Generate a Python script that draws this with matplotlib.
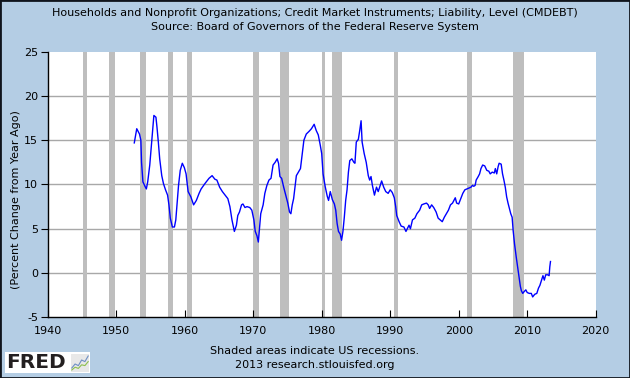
import numpy as np
import matplotlib.pyplot as plt
from matplotlib.patches import Rectangle

# Year-over-year % change in household credit market debt
years = [1952.64, 1953.0, 1953.2, 1953.4, 1953.6, 1953.7, 1953.9, 1954.2, 1954.4, 1954.6,
         1954.9, 1955.1, 1955.3, 1955.5, 1955.8, 1955.95, 1956.15, 1956.35, 1956.65, 1956.9,
         1957.2, 1957.5, 1957.7, 1957.9, 1958.2, 1958.5, 1958.7, 1958.9, 1959.1, 1959.35,
         1959.65, 1959.95, 1960.2, 1960.5, 1960.9, 1961.3, 1961.7, 1962.1, 1962.4, 1962.95,
         1963.55, 1964.0, 1964.4, 1964.7, 1965.1, 1965.5, 1965.9, 1966.3, 1966.6, 1966.9,
         1967.25, 1967.55, 1967.75, 1968.0, 1968.3, 1968.5, 1968.8, 1969.1, 1969.5, 1969.8,
         1970.1, 1970.3, 1970.55, 1970.75, 1970.95, 1971.1, 1971.45, 1971.7, 1972.0, 1972.3,
         1972.6, 1972.9, 1973.2, 1973.5, 1973.7, 1973.9, 1974.15, 1974.45, 1974.75, 1975.05,
         1975.3, 1975.5, 1975.7, 1975.9, 1976.1, 1976.3, 1976.6, 1976.9, 1977.1, 1977.4,
         1977.75, 1978.15, 1978.5, 1978.9, 1979.2, 1979.5, 1979.8, 1980.0, 1980.2, 1980.5,
         1980.8, 1981.0, 1981.25, 1981.55, 1981.85, 1982.05, 1982.25, 1982.45, 1982.7, 1982.9,
         1983.1, 1983.3, 1983.5, 1983.7, 1983.9, 1984.1, 1984.4, 1984.7, 1984.85, 1985.05,
         1985.35, 1985.55, 1985.75, 1985.9, 1986.2, 1986.5, 1986.8, 1987.0, 1987.2, 1987.4,
         1987.7, 1988.0, 1988.25, 1988.55, 1988.75, 1989.05, 1989.35, 1989.7, 1990.0, 1990.3,
         1990.6, 1990.8, 1990.95, 1991.3, 1991.6, 1992.0, 1992.3, 1992.55, 1992.75, 1992.95,
         1993.25, 1993.6, 1993.9, 1994.3, 1994.6, 1994.9, 1995.3, 1995.55, 1995.75, 1996.05,
         1996.35, 1996.7, 1997.0, 1997.3, 1997.6, 1997.9, 1998.2, 1998.5, 1998.8, 1999.1,
         1999.5, 1999.7, 2000.0, 2000.3, 2000.6, 2000.9, 2001.2, 2001.5, 2001.8, 2002.0,
         2002.2, 2002.4, 2002.55, 2002.85, 2003.05, 2003.25, 2003.5, 2003.8, 2004.1, 2004.4,
         2004.6, 2004.9, 2005.2, 2005.35, 2005.55, 2005.75, 2005.9, 2006.2, 2006.4, 2006.6,
         2006.8, 2007.0, 2007.2, 2007.4, 2007.6, 2007.8, 2007.95, 2008.15, 2008.4, 2008.6,
         2008.8, 2009.0, 2009.15, 2009.35, 2009.55, 2009.8, 2010.0, 2010.3, 2010.6, 2010.8,
         2011.1, 2011.4, 2011.65, 2011.85, 2012.1, 2012.3, 2012.5, 2012.7, 2013.0, 2013.2,
         2013.3, 2013.4]
pct_change = [14.7, 16.3, 16.0, 15.7, 15.0, 12.5, 10.3, 9.8, 9.5, 10.3,
              12.2, 14.1, 15.9, 17.8, 17.6, 16.5, 14.8, 12.9, 11.0, 10.1,
              9.4, 8.8, 7.7, 6.2, 5.2, 5.2, 6.0, 8.0, 9.9, 11.6,
              12.4, 11.9, 11.2, 9.2, 8.6, 7.7, 8.2, 9.0, 9.5, 10.1,
              10.7, 11.0, 10.6, 10.5, 9.7, 9.2, 8.8, 8.4, 7.5, 6.0,
              4.7, 5.4, 6.5, 6.9, 7.7, 7.8, 7.4, 7.5, 7.4, 7.1,
              6.0, 4.7, 4.2, 3.5, 5.4, 6.7, 7.7, 9.0, 9.9, 10.5,
              10.7, 12.2, 12.5, 12.9, 12.4, 10.9, 10.7, 9.7, 8.8, 7.9,
              6.9, 6.7, 7.7, 8.4, 9.7, 11.0, 11.4, 11.8, 13.1, 15.0,
              15.7, 16.0, 16.3, 16.8, 16.1, 15.6, 14.4, 13.5, 11.2, 9.8,
              8.7, 8.2, 9.2, 8.3, 7.8, 7.1, 5.6, 4.7, 4.4, 3.7,
              4.7, 6.3, 8.2, 9.4, 11.4, 12.7, 12.9, 12.5, 12.4, 14.8,
              15.1, 16.1, 17.2, 14.8, 13.5, 12.5, 11.0, 10.5, 10.9, 9.9,
              8.8, 9.7, 9.2, 9.9, 10.4, 9.7, 9.2, 9.0, 9.4, 9.1,
              8.5, 7.5, 6.5, 5.8, 5.3, 5.2, 4.7, 5.1, 5.4, 5.0,
              6.0, 6.2, 6.7, 7.1, 7.7, 7.8, 7.9, 7.7, 7.3, 7.7,
              7.4, 6.9, 6.2, 6.0, 5.8, 6.3, 6.7, 7.1, 7.7, 7.9,
              8.5, 7.9, 7.8, 8.4, 9.0, 9.4, 9.5, 9.6, 9.7, 9.9,
              9.8, 9.9, 10.5, 10.9, 11.2, 11.8, 12.2, 12.1, 11.6, 11.5,
              11.2, 11.4, 11.3, 11.8, 11.2, 12.0, 12.4, 12.3, 11.2, 10.5,
              9.7, 8.6, 7.9, 7.3, 6.7, 6.3, 4.8, 3.3, 1.8, 0.7,
              -0.4, -1.5, -2.0, -2.3, -2.1, -1.9, -2.2, -2.3, -2.3, -2.7,
              -2.4, -2.3, -1.7, -1.4, -0.8, -0.3, -0.8, -0.2, -0.2, -0.3,
              0.7, 1.3]

# NBER recessions (start, end) in decimal years
rec_start = [1945.1, 1948.9, 1953.5, 1957.6, 1960.3, 1969.9, 1973.85, 1980.0, 1981.5, 1990.5, 2001.2, 2007.9]
rec_end = [1945.8, 1949.8, 1954.4, 1958.3, 1961.1, 1970.9, 1975.2, 1980.55, 1982.9, 1991.2, 2001.9, 2009.5]

x_ticks = [1940, 1950, 1960, 1970, 1980, 1990, 2000, 2010, 2020]
y_ticks = [-5, 0, 5, 10, 15, 20, 25]

# tiny squiggles for the FRED logo icon
logo_blue = [1, 2, 1.6, 3, 2.6, 4]
logo_green = [0.5, 1.2, 0.9, 1.8, 1.6, 2.6]

bg = '#B4CDE4'
plt.rcParams['font.family'] = 'DejaVu Sans'
plt.rcParams['axes.unicode_minus'] = False

fig = plt.figure(figsize=(6.3, 3.78), dpi=100, facecolor=bg)
ax = fig.add_axes([47.7 / 630, 1 - 317.3 / 378, 548 / 630, 265.6 / 378])
ax.set_facecolor('white')

for s, e in zip(rec_start, rec_end):
    ax.axvspan(s, e, color='#BEBEBE', lw=0, zorder=1)

for t in y_ticks[1:-1]:
    ax.axhline(t, color='#A8A8A8', lw=1.0, zorder=0.5)

ax.plot(years, pct_change, color='#0000FF', lw=1.0, zorder=3)

ax.set_xlim(1940, 2020)
ax.set_ylim(-5, 25)
ax.set_xticks(x_ticks)
ax.set_yticks(y_ticks)
ax.tick_params(axis='x', direction='in', length=5, labelsize=8, pad=6)
ax.tick_params(axis='y', direction='out', length=5, labelsize=8, pad=2)
for side in ['top', 'right']:
    ax.spines[side].set_visible(False)
for side in ['left', 'bottom']:
    ax.spines[side].set_linewidth(1.0)
    ax.spines[side].set_color('black')

fig.text(0.5, 1 - 13 / 378, 'Households and Nonprofit Organizations; Credit Market Instruments; Liability, Level (CMDEBT)',
         ha='center', va='center', fontsize=8)
fig.text(0.5, 1 - 27 / 378, 'Source: Board of Governors of the Federal Reserve System',
         ha='center', va='center', fontsize=8)
fig.text(16 / 630, 1 - 200 / 378, '(Percent Change from Year Ago)', rotation=90,
         ha='center', va='center', fontsize=8)
fig.text(0.5, 1 - 351.5 / 378, 'Shaded areas indicate US recessions.', ha='center', va='center', fontsize=8)
fig.text(0.5, 1 - 365 / 378, '2013 research.stlouisfed.org', ha='center', va='center', fontsize=8)

# FRED logo
fig.patches.append(Rectangle((5 / 630, 1 - 373 / 378), 85 / 630, 21 / 378, transform=fig.transFigure,
                             facecolor='white', edgecolor='none', zorder=2))
fig.text(6 / 630, 1 - 362.5 / 378, 'FRED', ha='left', va='center', fontsize=14.5, fontweight='heavy',
         color='#231F20', zorder=3)
icon = fig.add_axes([71 / 630, 1 - 372 / 378, 18 / 630, 18 / 378])
icon.set_zorder(5)
icon.plot(logo_blue, color='#6E8FC4', lw=0.8)
icon.plot(logo_green, color='#8DBF4E', lw=0.8)
icon.set_ylim(0, 4.5)
icon.set_facecolor('#E8E8E8')
icon.set_xticks([])
icon.set_yticks([])
for sp in icon.spines.values():
    sp.set_visible(False)

# dark frame around the figure
fig.patches.append(Rectangle((0, 0), 1, 1, transform=fig.transFigure, fill=False,
                             edgecolor='#10141c', lw=2.0, zorder=10))

fig.savefig('out.png', dpi=100, facecolor=bg)
